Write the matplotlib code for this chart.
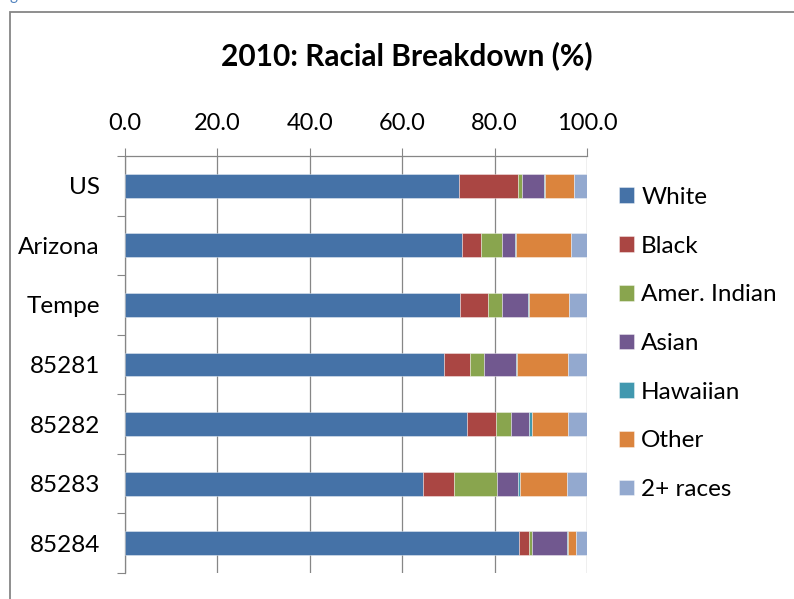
import matplotlib
matplotlib.use("Agg")
import matplotlib.pyplot as plt
from matplotlib.patches import Rectangle
import numpy as np

plt.rcParams["font.family"] = ["Lato", "DejaVu Sans"]

# 2010 census racial breakdown, percent of population
places = ["US", "Arizona", "Tempe", "85281", "85282", "85283", "85284"]
groups = ["White", "Black", "Amer. Indian", "Asian", "Hawaiian", "Other", "2+ races"]

white = [72.4, 73.0, 72.6, 69.0, 74.1, 64.4, 85.3]
black = [12.6, 4.1, 6.0, 5.7, 6.2, 6.9, 2.1]
amer_indian = [0.9, 4.6, 2.9, 3.0, 3.3, 9.2, 0.6]
asian = [4.8, 2.8, 5.7, 6.9, 3.8, 4.6, 7.6]
hawaiian = [0.2, 0.2, 0.3, 0.3, 0.6, 0.4, 0.2]
other = [6.2, 11.9, 8.6, 11.0, 7.9, 10.2, 1.8]
two_plus = [2.9, 3.4, 3.9, 4.1, 4.1, 4.3, 2.4]

series = [white, black, amer_indian, asian, hawaiian, other, two_plus]
colors = ["#4572A7", "#AA4643", "#89A54E", "#71588F", "#4198AF", "#DB843D", "#93A9CF"]

W, H, DPI = 794, 599, 100
fig = plt.figure(figsize=(W / DPI, H / DPI), dpi=DPI)
ax = fig.add_axes([125 / W, 1 - 573 / H, (587 - 125) / W, (573 - 156) / H])

grey = "#868686"
y = np.arange(len(places))
left = np.zeros(len(places))
handles = []
for values, name, color in zip(series, groups, colors):
    bars = ax.barh(y, values, left=left, height=0.4, color=color,
                   edgecolor=(1, 1, 1, 0.45), linewidth=0.6, label=name, zorder=3)
    handles.append(bars)
    left += np.array(values)

ax.set_xlim(0, 100)
ax.set_ylim(len(places) - 0.5, -0.5)

ax.xaxis.tick_top()
ax.set_xticks(np.arange(0, 101, 20))
ax.set_xticklabels([f"{v:.1f}" for v in range(0, 101, 20)])
ax.tick_params(axis="x", which="major", length=6, width=0.8, color=grey,
               pad=10, labelsize=17)
ax.grid(axis="x", color=grey, linewidth=0.9, zorder=0)

ax.set_yticks(y)
ax.set_yticklabels(places)
ax.set_yticks(np.arange(-0.5, len(places), 1.0), minor=True)
ax.tick_params(axis="y", which="major", length=0, pad=18, labelsize=17.5)
ax.tick_params(axis="y", which="minor", length=6, width=0.8, color=grey)

for side in ["right", "bottom"]:
    ax.spines[side].set_visible(False)
for side in ["top", "left"]:
    ax.spines[side].set_color(grey)
    ax.spines[side].set_linewidth(0.9)

fig.text(0.512, 0.907, "2010: Racial Breakdown (%)", ha="center", va="center",
         fontsize=21.5, fontweight="bold")

leg = fig.legend(handles=handles, labels=groups, loc="upper left",
                 bbox_to_anchor=(597 / W, 1 - 165 / H), frameon=False,
                 fontsize=17.5, handlelength=0.62, handleheight=0.62,
                 handletextpad=0.3, labelspacing=1.14)

# chart frame, cut off at the right and bottom edges
fig.patches.append(Rectangle((10 / W, -0.05), 1.2, 1 - 12 / H + 0.05,
                             transform=fig.transFigure, fill=False,
                             edgecolor=grey, linewidth=1.3))
fig.text(9 / W, 1.0, "g", color="#4F81BD", fontsize=11, va="baseline")

fig.savefig("out.png", dpi=DPI)
